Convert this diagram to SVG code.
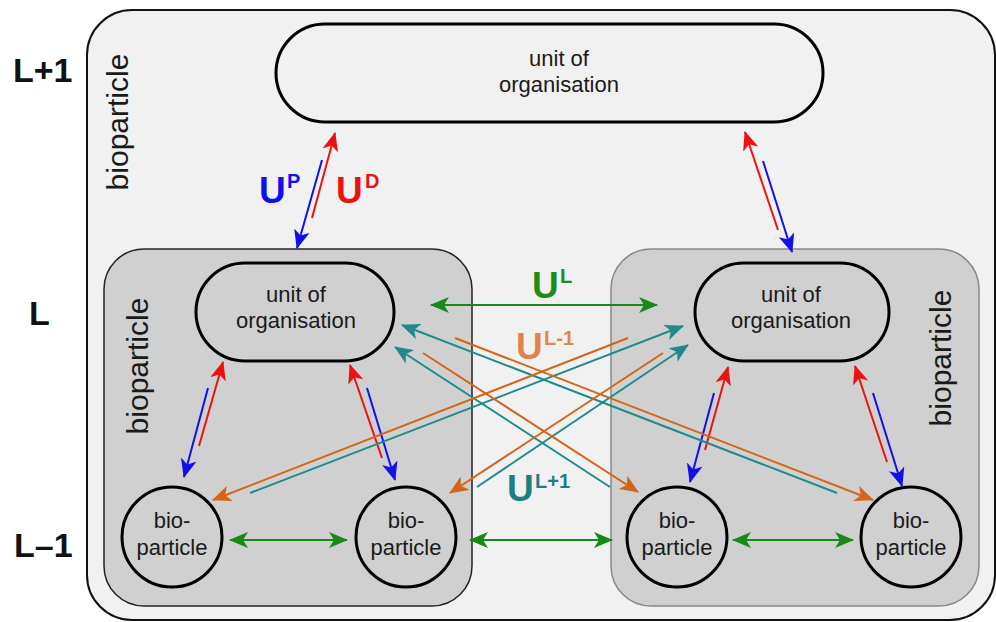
<svg xmlns="http://www.w3.org/2000/svg" width="996" height="622" viewBox="0 0 996 622">
<defs>
<style>
text{font-family:"Liberation Sans",Arial,sans-serif;}
.lbl{font-size:22px;fill:#1a1a1a;text-anchor:middle;}
.lvl{font-size:34px;font-weight:bold;fill:#111;}
.vt{font-size:30px;fill:#1a1a1a;text-anchor:middle;}
.U{font-size:37px;font-weight:bold;}
.sup{font-size:20px;font-weight:bold;}
.pill{fill:none;stroke:#000;stroke-width:3;}
.circ{fill:#d0d0d0;stroke:#000;stroke-width:3;}
.c line{stroke-width:2;fill:none;}
.r{stroke:#ee1111;marker-end:url(#mr);}
.b{stroke:#1010ee;marker-end:url(#mb);}
.g{stroke:#168a16;marker-start:url(#mg);marker-end:url(#mg);}
.o{stroke:#d2641c;marker-end:url(#mo);}
.t{stroke:#1e8a8a;marker-end:url(#mt);}
</style>
<marker id="mr" markerUnits="userSpaceOnUse" markerWidth="20" markerHeight="16" refX="18" refY="8" orient="auto-start-reverse"><path d="M0,0 L19,8 L0,16 L5,8 Z" fill="#ee1111"/></marker>
<marker id="mb" markerUnits="userSpaceOnUse" markerWidth="20" markerHeight="16" refX="18" refY="8" orient="auto-start-reverse"><path d="M0,0 L19,8 L0,16 L5,8 Z" fill="#1010ee"/></marker>
<marker id="mg" markerUnits="userSpaceOnUse" markerWidth="20" markerHeight="16" refX="18" refY="8" orient="auto-start-reverse"><path d="M0,0 L19,8 L0,16 L5,8 Z" fill="#168a16"/></marker>
<marker id="mo" markerUnits="userSpaceOnUse" markerWidth="20" markerHeight="16" refX="18" refY="8" orient="auto-start-reverse"><path d="M0,0 L19,8 L0,16 L5,8 Z" fill="#d2641c"/></marker>
<marker id="mt" markerUnits="userSpaceOnUse" markerWidth="20" markerHeight="16" refX="18" refY="8" orient="auto-start-reverse"><path d="M0,0 L19,8 L0,16 L5,8 Z" fill="#1e8a8a"/></marker>
</defs>
<rect width="996" height="622" fill="#ffffff"/>

<g id="levels">
<text class="lvl" x="13" y="82">L+1</text>
<text class="lvl" x="29" y="325">L</text>
<text class="lvl" x="14" y="557">L–1</text>
</g>

<g id="outer-bioparticle">
<rect x="87" y="10" width="908" height="610" rx="45" fill="#f1f1f1" stroke="#111" stroke-width="2"/>
<text class="vt" transform="translate(128,122) rotate(-90)">bioparticle</text>
</g>

<g id="top-unit">
<rect class="pill" x="276" y="24" width="547" height="98" rx="49"/>
<text class="lbl" x="559" y="66">unit of</text>
<text class="lbl" x="559" y="92">organisation</text>
</g>

<g id="left-bioparticle">
<rect x="104" y="249" width="368" height="357" rx="40" fill="#d0d0d0" stroke="#222" stroke-width="1.5"/>
<text class="vt" transform="translate(148,366) rotate(-90)">bioparticle</text>
</g>

<g id="right-bioparticle">
<rect x="611" y="249" width="368" height="357" rx="40" fill="#d0d0d0" stroke="#888" stroke-width="1.5"/>
<text class="vt" transform="translate(951,358) rotate(-90)">bioparticle</text>
</g>

<g id="left-unit">
<rect class="pill" x="196" y="263" width="198" height="98" rx="49"/>
<text class="lbl" x="296" y="302">unit of</text>
<text class="lbl" x="296" y="328">organisation</text>
</g>

<g id="right-unit">
<rect class="pill" x="695" y="263" width="194" height="98" rx="49"/>
<text class="lbl" x="791" y="302">unit of</text>
<text class="lbl" x="791" y="328">organisation</text>
</g>

<g id="bp1">
<circle class="circ" cx="172" cy="537" r="50"/>
<text class="lbl" x="172" y="528">bio-</text>
<text class="lbl" x="172" y="555">particle</text>
</g>
<g id="bp2">
<circle class="circ" cx="406" cy="537" r="50"/>
<text class="lbl" x="406" y="528">bio-</text>
<text class="lbl" x="406" y="555">particle</text>
</g>
<g id="bp3">
<circle class="circ" cx="677" cy="537" r="50"/>
<text class="lbl" x="677" y="528">bio-</text>
<text class="lbl" x="677" y="555">particle</text>
</g>
<g id="bp4">
<circle class="circ" cx="911" cy="537" r="50"/>
<text class="lbl" x="911" y="528">bio-</text>
<text class="lbl" x="911" y="555">particle</text>
</g>

<g id="connectors" class="c">
<line class="r" x1="312" y1="218" x2="335" y2="133"/>
<line class="b" x1="322" y1="160" x2="297" y2="248"/>
<line class="r" x1="778" y1="230" x2="745" y2="132"/>
<line class="b" x1="763" y1="161" x2="792" y2="252"/>
<line class="r" x1="199" y1="446" x2="223" y2="362"/>
<line class="b" x1="208" y1="388" x2="184" y2="477"/>
<line class="r" x1="382" y1="458" x2="350" y2="365"/>
<line class="b" x1="367" y1="388" x2="395" y2="480"/>
<line class="r" x1="705" y1="450" x2="728" y2="367"/>
<line class="b" x1="714" y1="393" x2="690" y2="482"/>
<line class="r" x1="887" y1="462" x2="855" y2="366"/>
<line class="b" x1="873" y1="393" x2="902" y2="486"/>
<line class="g" x1="230" y1="540" x2="347" y2="540"/>
<line class="g" x1="470" y1="540" x2="612" y2="540"/>
<line class="g" x1="733" y1="540" x2="853" y2="540"/>
<line class="g" x1="431" y1="305" x2="657" y2="305"/>
<line class="t" x1="837" y1="493" x2="402" y2="325"/>
<line class="t" x1="610" y1="487" x2="395" y2="347"/>
<line class="t" x1="250" y1="493" x2="683" y2="326"/>
<line class="t" x1="477" y1="487" x2="688" y2="345"/>
<line class="o" x1="455" y1="338" x2="873" y2="500"/>
<line class="o" x1="423" y1="353" x2="638" y2="492"/>
<line class="o" x1="628" y1="338" x2="213" y2="500"/>
<line class="o" x1="663" y1="353" x2="450" y2="493"/>
</g>

<g id="labels">
<text class="U" x="259" y="203" fill="#1010ee">U</text><text class="sup" x="287" y="188" fill="#1010ee">P</text>
<text class="U" x="336" y="203" fill="#ee1111">U</text><text class="sup" x="365" y="188" fill="#ee1111">D</text>
<text class="U" x="532" y="298" fill="#1c8c1c">U</text><text class="sup" x="560" y="283" fill="#1c8c1c">L</text>
<text class="U" x="516" y="359" fill="#e0844c">U</text><text class="sup" x="544" y="345" fill="#e0844c">L-1</text>
<text class="U" x="507" y="501" fill="#1a8080">U</text><text class="sup" x="535" y="488" fill="#1a8080">L+1</text>
</g>
</svg>
